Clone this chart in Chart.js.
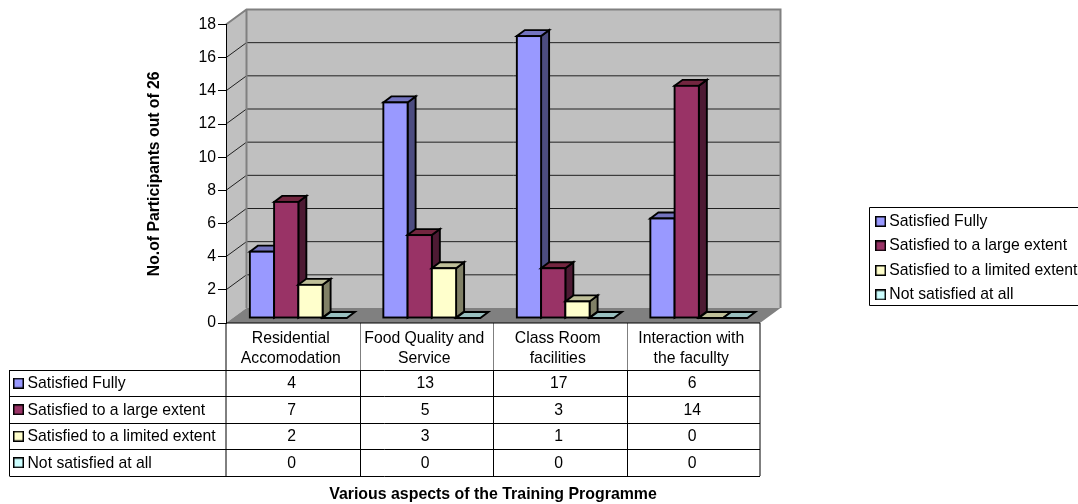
<!DOCTYPE html>
<html><head><meta charset="utf-8">
<style>html,body{margin:0;padding:0;background:#fff}canvas{display:block}</style>
<script src="https://cdn.jsdelivr.net/npm/chart.js@4"></script>
</head><body>
<canvas id="c" width="1078" height="504"></canvas>
<script>
const categories = [['Residential','Accomodation'],['Food Quality and','Service'],['Class Room','facilities'],['Interaction with','the facullty']];
const seriesNames = ['Satisfied Fully','Satisfied to a large extent','Satisfied to a limited extent','Not satisfied at all'];
const satisfiedFully = [4,13,17,6];
const satisfiedLarge = [7,5,3,14];
const satisfiedLimited = [2,3,1,0];
const notSatisfied = [0,0,0,0];
const seriesValues = [satisfiedFully,satisfiedLarge,satisfiedLimited,notSatisfied];
const frontColors = ['#9999FF','#993366','#FFFFCC','#CCFFFF'];
const sideColors = ['#4C4C80','#4D1A33','#808066','#668080'];
const topColors = ['#7373BF','#732640','#BFBF99','#99BFBF'];
const xTitle = 'Various aspects of the Training Programme';
const yTitle = 'No.of Participants out of 26';
const FONT = '"Liberation Sans", Arial, sans-serif';
const FS = 15.75;

const keyImages = frontColors.map(col=>{
  const k=document.createElement('canvas');k.width=11;k.height=11;
  const g=k.getContext('2d');g.fillStyle='#000';g.fillRect(0,0,11,11);
  g.fillStyle=col;g.fillRect(1.5,1.5,8,8);return k;});

const WALL={dx:20.5,dy:-15}, BAR={dx:8,dy:-6}, PLANE={dx:5.6,dy:-5};

const scene={
  id:'scene',
  beforeDraw(chart){
    const {ctx,scales:{x,y},legend}=chart;
    legend.left=871;legend.right=1078;legend.top=204.8;legend.bottom=360;
    const L=x.left,R=x.right,B=y.bottom,T=y.top;
    const dx=WALL.dx,dy=WALL.dy;
    ctx.save();
    ctx.fillStyle='#C0C0C0';
    ctx.fillRect(L+dx,T+dy,R-L,B-T);
    ctx.beginPath();ctx.moveTo(L,B);ctx.lineTo(L,T);ctx.lineTo(L+dx,T+dy);ctx.lineTo(L+dx,B+dy);ctx.closePath();ctx.fill();
    ctx.fillStyle='#808080';
    ctx.beginPath();ctx.moveTo(L,B);ctx.lineTo(R,B);ctx.lineTo(R+dx,B+dy);ctx.lineTo(L+dx,B+dy);ctx.closePath();ctx.fill();
    ctx.strokeStyle='#202020';ctx.lineWidth=1;
    y.ticks.forEach(t=>{
      if(t.value===0||t.value===18)return;
      const p=y.getPixelForValue(t.value);
      ctx.beginPath();ctx.moveTo(L,p);ctx.lineTo(L+dx,p+dy);ctx.lineTo(R+dx,p+dy);ctx.stroke();
    });
    ctx.strokeStyle='#808080';ctx.lineWidth=2;
    ctx.beginPath();ctx.moveTo(L,T);ctx.lineTo(L+dx,T+dy);ctx.lineTo(R+dx,T+dy);ctx.lineTo(R+dx,B+dy);
    ctx.moveTo(L+dx,T+dy);ctx.lineTo(L+dx,B+dy);ctx.stroke();
    const rows=[370,396.5,423,449.5,476], colL=9.5;
    const colW=(R-L)/categories.length;
    ctx.lineWidth=1;
    ctx.strokeStyle='#7f7f7f';
    for(let i=1;i<categories.length;i++){const p=Math.round(L+i*colW)+.5;ctx.beginPath();ctx.moveTo(p,B);ctx.lineTo(p,rows[0]);ctx.stroke();}
    ctx.strokeStyle='#000';
    for(let i=1;i<categories.length;i++){const p=Math.round(L+i*colW)+.5;ctx.beginPath();ctx.moveTo(p,rows[0]);ctx.lineTo(p,rows[4]);ctx.stroke();}
    ctx.beginPath();
    ctx.moveTo(L,B);ctx.lineTo(L,rows[4]);
    ctx.moveTo(R,B);ctx.lineTo(R,rows[4]);
    ctx.moveTo(colL,rows[0]);ctx.lineTo(colL,rows[4]);
    rows.forEach(r=>{ctx.moveTo(colL,Math.floor(r)+.5);ctx.lineTo(R,Math.floor(r)+.5);});
    ctx.moveTo(L,B);ctx.lineTo(R,B);
    ctx.stroke();
    ctx.font=FS+'px '+FONT;ctx.textBaseline='middle';
    seriesNames.forEach((n,i)=>{
      const cy=(rows[i]+rows[i+1])/2;
      ctx.drawImage(keyImages[i],13,cy-5.5);
      ctx.fillStyle='#000';ctx.textAlign='left';
      ctx.fillText(n,27.5,cy+.5);
      ctx.textAlign='center';
      seriesValues[i].forEach((v,j)=>ctx.fillText(String(v),x.getPixelForValue(j)-1,cy+.5));
    });
    ctx.strokeStyle='#000';ctx.lineWidth=1;
    ctx.beginPath();ctx.moveTo(1080,207.5);ctx.lineTo(869.5,207.5);ctx.lineTo(869.5,305.5);ctx.lineTo(1080,305.5);ctx.stroke();
    ctx.restore();
  },
  beforeDatasetsDraw(chart){
    const {ctx}=chart;
    ctx.save();
    ctx.translate(PLANE.dx,PLANE.dy);
    const d=BAR.dx,e=BAR.dy;
    for(let c=0;c<categories.length;c++){
      chart.getSortedVisibleDatasetMetas().forEach(meta=>{
        const i=meta.index, el=meta.data[c];
        const {x,y,base,width}=el.getProps(['x','y','base','width'],true);
        const l=x-width/2,r=x+width/2;
        ctx.lineWidth=1.9;ctx.strokeStyle='#000';ctx.lineJoin='miter';
        if(base-y>0){
          ctx.fillStyle=sideColors[i];
          ctx.beginPath();ctx.moveTo(r,y);ctx.lineTo(r+d,y+e);ctx.lineTo(r+d,base+e);ctx.lineTo(r,base);ctx.closePath();ctx.fill();ctx.stroke();
        }
        ctx.fillStyle=topColors[i];
        ctx.beginPath();ctx.moveTo(l,y);ctx.lineTo(l+d,y+e);ctx.lineTo(r+d,y+e);ctx.lineTo(r,y);ctx.closePath();ctx.fill();ctx.stroke();
        el.draw(ctx,chart.chartArea);
        if(base-y>0){ctx.strokeRect(l,y,width,base-y);}
      });
    }
    ctx.restore();
    return false;
  }
};

new Chart(document.getElementById('c'),{
  type:'bar',
  data:{labels:categories,datasets:seriesNames.map((n,i)=>({label:n,data:seriesValues[i],backgroundColor:frontColors[i],borderWidth:0,categoryPercentage:0.7266,barPercentage:1}))},
  options:{
    responsive:false,animation:false,devicePixelRatio:1,
    layout:{padding:{left:0,right:318,top:24.5,bottom:0}},
    plugins:{
      title:{display:false},tooltip:{enabled:false},
      legend:{display:true,position:'chartArea',align:'start',
        labels:{font:{family:FONT,size:FS},color:'#000',padding:8.75,usePointStyle:true,pointStyleWidth:1.65,boxHeight:11,
          generateLabels:()=>seriesNames.map((n,i)=>({text:n,pointStyle:keyImages[i],datasetIndex:i,hidden:false,fontColor:'#000',strokeStyle:'#000',fillStyle:frontColors[i],lineWidth:0}))}}
    },
    scales:{
      x:{grid:{display:false},border:{display:false},
        afterFit(s){s.height=181;},
        title:{display:true,text:xTitle,color:'#000',font:{family:FONT,size:15.9,weight:'bold',lineHeight:1.14},padding:{top:0,bottom:0}},
        ticks:{font:{family:FONT,size:FS,lineHeight:1.27},color:'#000',padding:-2,labelOffset:-2,maxRotation:0,autoSkip:false}},
      y:{min:0,max:18,
        afterFit(s){s.width=226;},
        title:{display:true,text:yTitle,color:'#000',font:{family:FONT,size:FS,weight:'bold',lineHeight:1.2},padding:{top:145.5,bottom:0}},
        grid:{drawOnChartArea:false,drawTicks:true,tickLength:8,color:'#000'},
        border:{display:true,color:'#000',width:1},
        ticks:{stepSize:2,padding:2,font:{family:FONT,size:FS},color:'#000'}}
    }
  },
  plugins:[scene]
});
</script>
</body></html>
